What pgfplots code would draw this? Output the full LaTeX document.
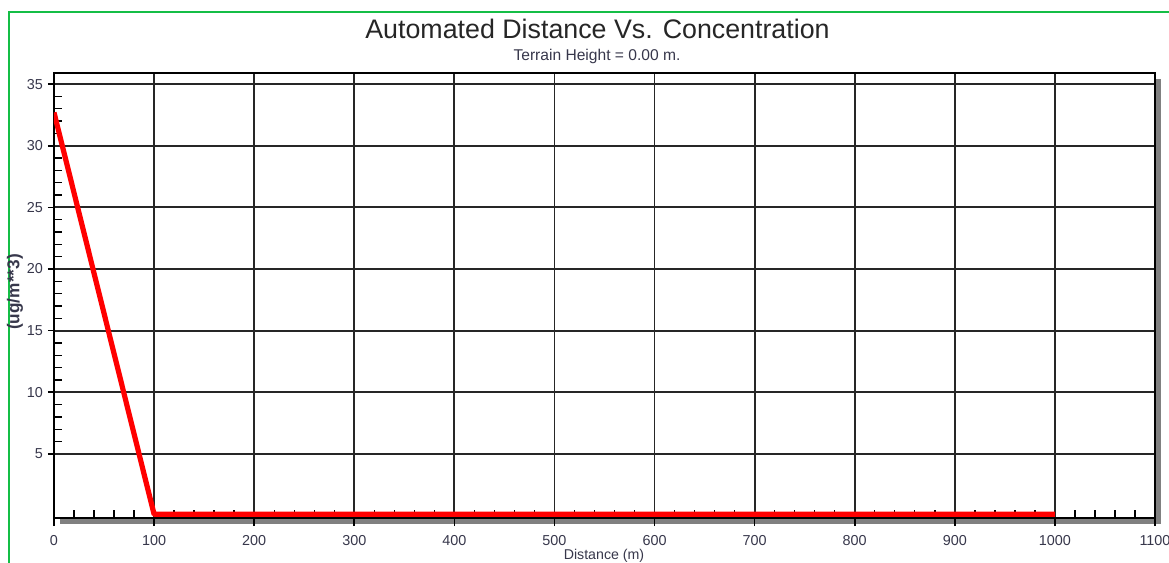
\documentclass[border=0pt]{standalone}
\usepackage{fontspec}
\setmainfont{Liberation Sans}
\usepackage{pgfplots}
\pgfplotsset{compat=1.18}
\definecolor{frameGreen}{RGB}{20,190,70}
\definecolor{labelGray}{RGB}{55,55,75}
\begin{document}
\begin{tikzpicture}
\path[use as bounding box] (0,0) rectangle (584.5pt,-281.5pt);
% green border
\draw[frameGreen, line width=1pt] (4.25pt,-300pt) -- (4.25pt,-6pt) -- (600pt,-6pt);
% title
\node[text=black!85, font=\fontsize{13.4}{15}\selectfont] at (298.75pt,-14.5pt) {Automated Distance Vs. Concentration};
\node[text=labelGray, font=\fontsize{7.8}{9}\selectfont] at (298.5pt,-28pt) {Terrain Height = 0.00 m.};
% shadow
\fill[black!50] (30pt,-39.5pt) rectangle (580.5pt,-262pt);
\begin{axis}[
  at={(27pt,-259pt)}, anchor=south west,
  width=550.5pt, height=222.5pt, scale only axis,
  xmin=0, xmax=1100, ymin=-0.2, ymax=35.9,
  xtick={0,100,...,1100},
  ytick={5,10,...,35},
  minor x tick num=4, minor y tick num=4,
  tick pos=left,
  tick align=inside,
  major tick length=0pt,
  minor tick length=4pt,
  every minor tick/.style={black, line width=0.7pt},
  grid=major,
  major grid style={black!85, line width=0.9pt},
  axis line style={black, line width=1.2pt},
  axis background/.style={fill=white},
  /pgf/number format/1000 sep={},
  /pgf/number format/assume math mode=true,
  tick label style={font=\fontsize{7.2}{8}\selectfont, text=labelGray},
  xticklabel style={yshift=-5pt},
  yticklabel style={xshift=-2pt},
  extra x ticks={0,100,...,1100},
  extra x tick labels={},
  extra x tick style={grid=none, tick align=outside, major tick length=4pt, major tick style={black, line width=0.8pt}},
  extra y ticks={5,10,...,35},
  extra y tick labels={},
  extra y tick style={grid=none, tick align=outside, major tick length=3pt, major tick style={black, line width=0.8pt}},
]
\addplot[red, line width=2.6pt, line join=round] coordinates {(0,32.7) (100,0.1) (1000,0.1)};
\end{axis}
\node[rotate=90, text=labelGray, font=\bfseries\fontsize{8.6}{10}\selectfont] at (7.5pt,-146pt) {(ug/m**3)};
\node[anchor=south, inner sep=0pt, text=labelGray, font=\fontsize{7.1}{8}\selectfont] at (302pt,-281.2pt) {Distance (m)};
\end{tikzpicture}
\end{document}
